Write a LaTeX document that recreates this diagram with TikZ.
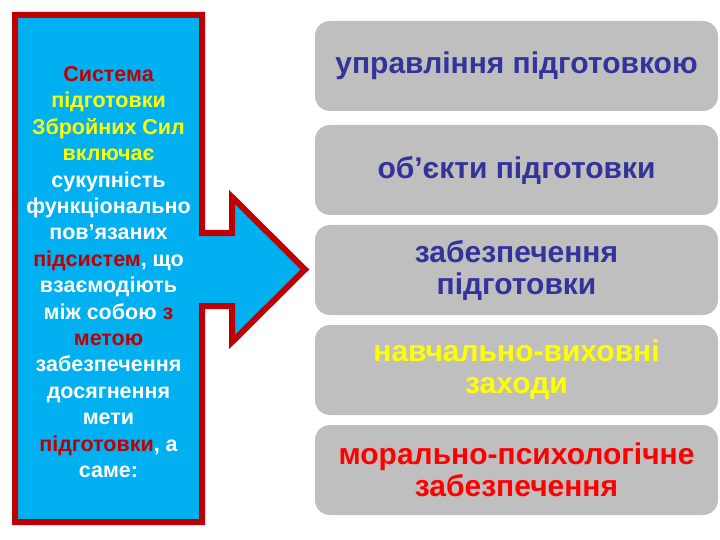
\documentclass[tikz,border=0pt]{standalone}
\usepackage{fontspec}
\setmainfont{Liberation Sans}
\definecolor{skyb}{HTML}{00B0F0}
\definecolor{darkred}{HTML}{C00000}
\definecolor{boxgray}{HTML}{BFBFBF}
\definecolor{navy}{HTML}{333399}
\definecolor{yel}{HTML}{FFFF00}
\definecolor{brred}{HTML}{FF0000}
\tikzset{
  item/.style={fill=boxgray, draw=none, rounded corners=15pt, minimum width=403pt, minimum height=90pt, inner sep=0pt, align=center, font=\fontsize{30}{32}\selectfont\bfseries},
  panel/.style={fill=skyb, draw=darkred, line width=6pt},
  paneltext/.style={align=center, inner sep=0pt, font=\fontsize{21.5}{26.4}\selectfont\bfseries, text=white}
}
\begin{document}
\begin{tikzpicture}[x=1pt,y=-1pt]
\useasboundingbox (0,0) rectangle (720,540);
\draw[panel] (15,15) -- (202,15) -- (202,233) -- (232,233) -- (232,197) -- (305,269.5) -- (232,342) -- (232,306) -- (202,306) -- (202,522) -- (15,522) -- cycle;
\node[paneltext] (txt) at (108.5,272) {\textcolor{darkred}{Система}\\ \textcolor{yel}{підготовки}\\ \textcolor{yel}{Збройних Сил}\\ \textcolor{yel}{включає}\\ сукупність\\ функціонально\\ пов’язаних\\ \textcolor{darkred}{підсистем}, що\\ взаємодіють\\ між собою \textcolor{darkred}{з}\\ \textcolor{darkred}{метою}\\ забезпечення\\ досягнення\\ мети\\ \textcolor{darkred}{підготовки}, а\\ саме:};
\node[item, text=navy] (b1) at (516.5,66) {управління підготовкою};
\node[item, text=navy] (b2) at (516.5,170) {об’єкти підготовки};
\node[item, text=navy] (b3) at (516.5,270) {забезпечення\\ підготовки};
\node[item, text=yel] (b4) at (516.5,370) {навчально-виховні\\ заходи};
\node[item, text=brred] (b5) at (516.5,470) {морально-психологічне\\ забезпечення};
\end{tikzpicture}
\end{document}
